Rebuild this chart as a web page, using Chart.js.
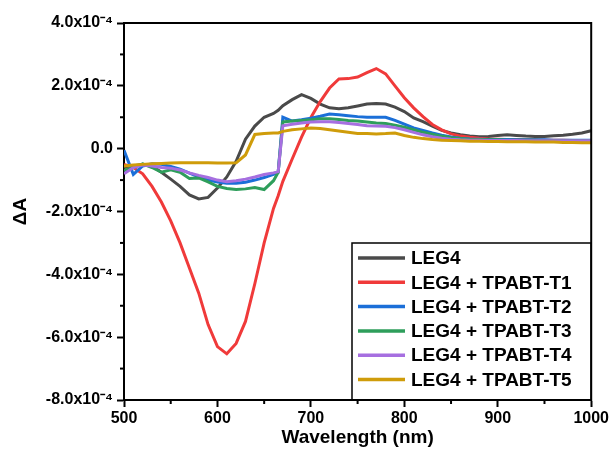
<!DOCTYPE html>
<html><head><meta charset="utf-8">
<script src="https://cdn.jsdelivr.net/npm/chart.js@4.4.1/dist/chart.umd.min.js"></script>
<style>html,body{margin:0;padding:0;background:#fff}#wrap{width:611px;height:461px}</style>
</head><body><div id="wrap"><canvas id="c" width="611" height="461"></canvas></div>
<script>
// Wavelength (nm)
const wavelengths = [500,510,520,530,540,550,560,570,580,590,600,610,620,630,640,650,660,665,670,680,690,700,710,720,730,740,750,760,770,780,790,800,810,820,830,840,850,860,870,880,890,900,910,920,930,940,950,960,970,980,990,1000];
// ΔA values in units of 1e-4
const leg4 = [-0.6,-0.55,-0.5,-0.55,-0.75,-0.97,-1.2,-1.47,-1.6,-1.55,-1.25,-0.9,-0.4,0.3,0.72,1.0,1.12,1.22,1.37,1.56,1.72,1.6,1.42,1.3,1.27,1.3,1.36,1.42,1.44,1.42,1.32,1.18,0.98,0.86,0.72,0.58,0.5,0.44,0.4,0.38,0.39,0.42,0.44,0.42,0.4,0.39,0.39,0.41,0.43,0.46,0.5,0.57];
const legT1 = [-0.5,-0.6,-0.8,-1.2,-1.7,-2.3,-3.0,-3.8,-4.6,-5.6,-6.3,-6.53,-6.2,-5.5,-4.3,-3.0,-1.9,-1.5,-1.04,-0.33,0.37,0.99,1.5,1.93,2.22,2.23,2.28,2.42,2.55,2.38,2.0,1.62,1.3,1.02,0.77,0.6,0.47,0.4,0.36,0.33,0.31,0.3,0.29,0.29,0.28,0.28,0.27,0.27,0.27,0.26,0.26,0.26];
const legT2 = [-0.05,-0.82,-0.55,-0.48,-0.5,-0.57,-0.65,-0.78,-0.9,-1.0,-1.06,-1.1,-1.1,-1.07,-1.0,-0.92,-0.82,-0.75,1.0,0.88,0.92,0.97,1.03,1.1,1.08,1.05,1.02,1.0,1.0,1.0,0.9,0.78,0.66,0.58,0.5,0.43,0.37,0.33,0.31,0.3,0.29,0.29,0.29,0.28,0.28,0.28,0.28,0.27,0.27,0.27,0.27,0.27];
const legT3 = [-0.7,-0.6,-0.48,-0.6,-0.75,-0.67,-0.75,-0.95,-0.93,-1.06,-1.2,-1.27,-1.3,-1.28,-1.24,-1.3,-1.02,-0.75,0.85,0.88,0.9,0.92,0.95,0.95,0.93,0.9,0.88,0.85,0.82,0.8,0.75,0.68,0.6,0.52,0.46,0.4,0.35,0.32,0.3,0.29,0.28,0.28,0.27,0.27,0.27,0.27,0.26,0.26,0.26,0.26,0.26,0.26];
const legT4 = [-0.8,-0.6,-0.52,-0.55,-0.6,-0.62,-0.68,-0.77,-0.85,-0.92,-1.0,-1.05,-1.02,-0.97,-0.9,-0.82,-0.77,-0.73,0.73,0.78,0.82,0.85,0.86,0.86,0.83,0.8,0.77,0.73,0.72,0.71,0.67,0.6,0.52,0.44,0.38,0.33,0.3,0.28,0.27,0.27,0.26,0.26,0.26,0.26,0.25,0.25,0.25,0.25,0.25,0.25,0.25,0.25];
const legT5 = [-0.55,-0.52,-0.5,-0.48,-0.47,-0.46,-0.45,-0.45,-0.45,-0.45,-0.46,-0.46,-0.45,-0.2,0.45,0.48,0.5,0.5,0.55,0.6,0.63,0.66,0.64,0.6,0.56,0.52,0.48,0.48,0.47,0.48,0.5,0.42,0.36,0.32,0.29,0.27,0.26,0.25,0.24,0.24,0.23,0.23,0.22,0.22,0.22,0.21,0.21,0.21,0.2,0.2,0.19,0.19];
const seriesLabels = ['LEG4','LEG4 + TPABT-T1','LEG4 + TPABT-T2','LEG4 + TPABT-T3','LEG4 + TPABT-T4','LEG4 + TPABT-T5'];
const seriesValues = [leg4, legT1, legT2, legT3, legT4, legT5];
const seriesColors = ['#4a4a4a','#f03a3a','#1b6fd8','#2e9e5b','#a66fe0','#cf9c0a'];
const X_MIN = 500, X_MAX = 1000, X_STEP = 100;
const Y_MIN = -8e-4, Y_MAX = 4e-4, Y_STEP = 2e-4;
const SCALE = 1e-4;

const FONT = "'Liberation Sans', Arial, sans-serif";

const datasets = seriesValues.map((vals, i) => ({
  label: seriesLabels[i],
  data: wavelengths.map((w, k) => ({x: w, y: vals[k] * SCALE})),
  borderColor: seriesColors[i],
  backgroundColor: seriesColors[i],
  borderWidth: 3,
  pointRadius: 0,
  tension: 0,
  fill: false,
  order: seriesValues.length - i
}));

function yLabel(v) {
  const n = Math.round(v / SCALE * 10) / 10;
  if (Math.abs(n) < 1e-9) return '0.0';
  return n.toFixed(1) + 'x10\u207B\u2074';
}

const framePlugin = {
  id: 'frame',
  afterDraw(chart) {
    const {ctx, chartArea: a, scales: {x, y}} = chart;
    ctx.save();
    ctx.strokeStyle = '#000';
    ctx.lineWidth = 2;
    ctx.beginPath();
    ctx.moveTo(a.left - 1, a.top);
    ctx.lineTo(a.right, a.top);
    ctx.lineTo(a.right, a.bottom + 1);
    ctx.stroke();
    // minor ticks
    ctx.lineWidth = 2;
    const xt = x.ticks.map(t => t.value);
    for (let i = 0; i < xt.length - 1; i++) {
      const px = x.getPixelForValue((xt[i] + xt[i + 1]) / 2);
      ctx.beginPath(); ctx.moveTo(px, a.bottom); ctx.lineTo(px, a.bottom + 4); ctx.stroke();
    }
    const yt = y.ticks.map(t => t.value);
    for (let i = 0; i < yt.length - 1; i++) {
      const py = y.getPixelForValue((yt[i] + yt[i + 1]) / 2);
      ctx.beginPath(); ctx.moveTo(a.left, py); ctx.lineTo(a.left - 4, py); ctx.stroke();
    }
    // legend box
    const bx = 352, by = 243, bw = a.right - bx, bh = a.bottom - by;
    ctx.lineWidth = 1.5;
    ctx.strokeRect(bx, by, bw, bh);
    ctx.font = 'bold 19px ' + FONT;
    ctx.textBaseline = 'middle';
    ctx.textAlign = 'left';
    chart.data.datasets.forEach((ds, i) => {
      const cy = 258 + i * 24.3;
      ctx.strokeStyle = ds.borderColor;
      ctx.lineWidth = 3.5;
      ctx.beginPath(); ctx.moveTo(358, cy); ctx.lineTo(405, cy); ctx.stroke();
      ctx.fillStyle = '#000';
      ctx.fillText(ds.label, 411, cy + 1);
    });
    ctx.restore();
  }
};

new Chart(document.getElementById('c'), {
  type: 'line',
  data: {datasets},
  plugins: [framePlugin],
  options: {
    responsive: false,
    devicePixelRatio: 1,
    animation: false,
    layout: {padding: {top: 23, right: 19, left: 0, bottom: 0}},
    plugins: {legend: {display: false}, tooltip: {enabled: false}},
    scales: {
      x: {
        type: 'linear', min: X_MIN, max: X_MAX,
        ticks: {stepSize: X_STEP, color: '#000', font: {family: FONT, size: 16, weight: 'bold'}, padding: 2, maxRotation: 0, callback: v => String(Math.round(v))},
        grid: {drawOnChartArea: false, tickLength: 7, tickWidth: 2, tickColor: '#000'},
        border: {color: '#000', width: 2},
        title: {display: true, text: 'Wavelength (nm)', color: '#000', font: {family: FONT, size: 19, weight: 'bold'}, padding: {top: 0, bottom: 12}},
        afterFit(s) { s.height = 61; }
      },
      y: {
        type: 'linear', min: Y_MIN, max: Y_MAX,
        ticks: {stepSize: Y_STEP, color: '#000', font: {family: FONT, size: 16, weight: 'bold'}, padding: 4, callback: yLabel},
        grid: {drawOnChartArea: false, tickLength: 7, tickWidth: 2, tickColor: '#000'},
        border: {color: '#000', width: 2},
        title: {display: true, text: '\u0394A', color: '#000', font: {family: FONT, size: 19, weight: 'bold'}, padding: {top: 9, bottom: 0}},
        afterFit(s) { s.width = 124; }
      }
    }
  }
});
</script>
</body></html>
